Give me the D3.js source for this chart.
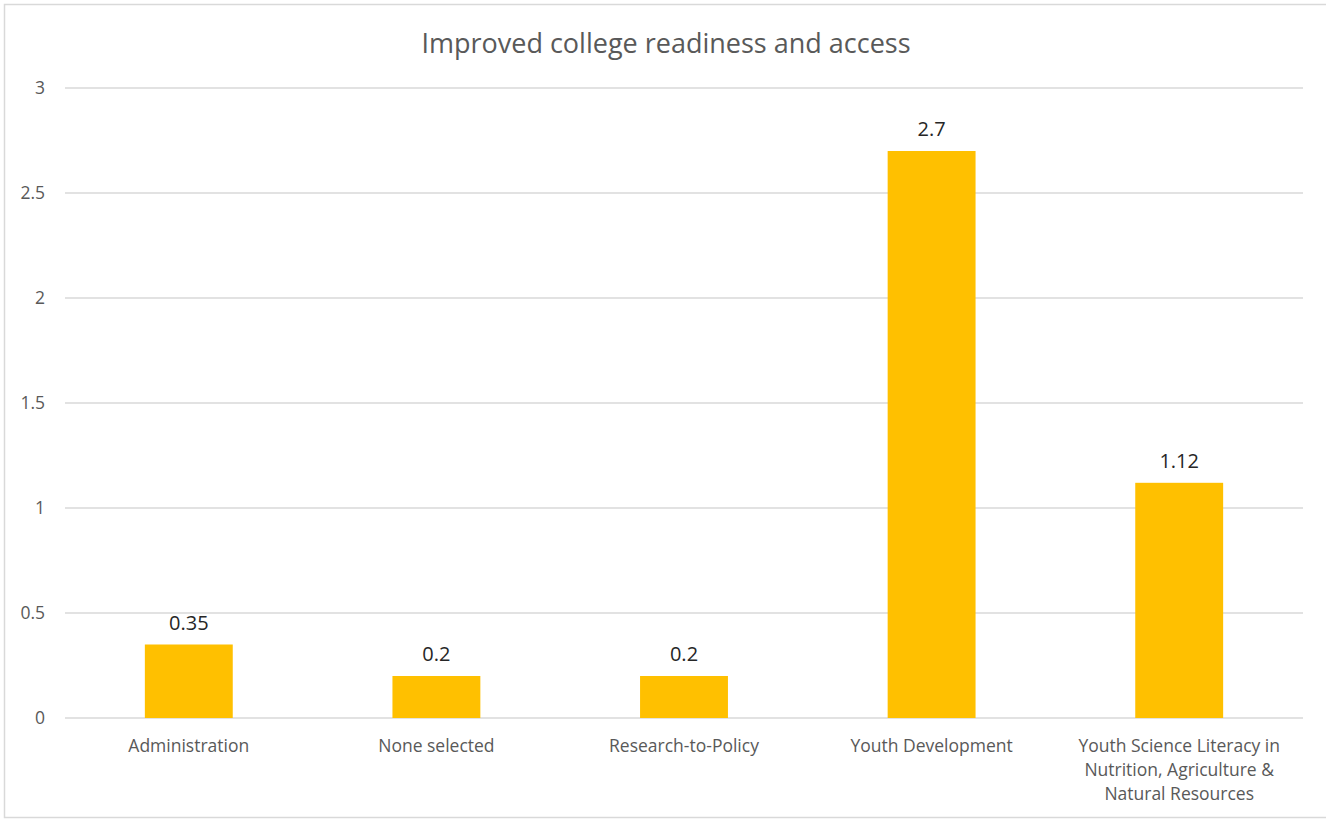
<!DOCTYPE html>
<html>
<head>
<meta charset="utf-8">
<script src="https://cdn.jsdelivr.net/npm/d3@7"></script>
<style>
  html, body { margin: 0; padding: 0; background: #fff; }
  svg { display: block; }
</style>
</head>
<body>
<svg id="chart" width="1326" height="820"></svg>
<script>
const title = "Improved college readiness and access";
const categories = [
  ["Administration"],
  ["None selected"],
  ["Research-to-Policy"],
  ["Youth Development"],
  ["Youth Science Literacy in", "Nutrition, Agriculture &", "Natural Resources"]
];
const values = [0.35, 0.2, 0.2, 2.7, 1.12];
const valueLabels = ["0.35", "0.2", "0.2", "2.7", "1.12"];
const yTicks = [0, 0.5, 1, 1.5, 2, 2.5, 3];
const yTickLabels = ["0", "0.5", "1", "1.5", "2", "2.5", "3"];

const font = "'Open Sans', 'Noto Sans', sans-serif";
const svg = d3.select("#chart");
const W = 1326, H = 820;
const plot = { left: 65, right: 1303, top: 88, bottom: 718 };

// outer border (chart area)
svg.append("rect")
  .attr("x", 4.5).attr("y", 4.5)
  .attr("width", W + 10).attr("height", 813)
  .attr("fill", "#fff").attr("stroke", "#d9d9d9").attr("stroke-width", 1.5);

const x = d3.scaleBand()
  .domain(d3.range(categories.length))
  .range([plot.left, plot.right])
  .paddingInner(0.645).paddingOuter(0.3225);

const y = d3.scaleLinear().domain([0, 3]).range([plot.bottom, plot.top]);

// gridlines
svg.append("g").selectAll("line").data(yTicks).join("line")
  .attr("x1", plot.left).attr("x2", plot.right)
  .attr("y1", d => y(d)).attr("y2", d => y(d))
  .attr("stroke", "#d9d9d9").attr("stroke-width", 1.3);

// y axis labels
const yAxis = d3.axisLeft(y).tickValues(yTicks)
  .tickFormat((d, i) => yTickLabels[i]).tickSize(0).tickPadding(20);
const gy = svg.append("g").attr("transform", `translate(${plot.left},0)`).call(yAxis);
gy.select(".domain").remove();
gy.selectAll("text").attr("font-family", font).attr("font-size", 17.5).attr("fill", "#595959");

// bars
svg.append("g").selectAll("rect").data(values).join("rect")
  .attr("x", (d, i) => x(i))
  .attr("width", x.bandwidth())
  .attr("y", d => y(d))
  .attr("height", d => y(0) - y(d))
  .attr("fill", "#ffc000");

// data labels
svg.append("g").selectAll("text").data(values).join("text")
  .attr("x", (d, i) => x(i) + x.bandwidth() / 2)
  .attr("y", d => y(d) - 15)
  .attr("text-anchor", "middle")
  .attr("font-family", font).attr("font-size", 20).attr("fill", "#262626")
  .text((d, i) => valueLabels[i]);

// category labels
const cat = svg.append("g").selectAll("text").data(categories).join("text")
  .attr("x", (d, i) => x(i) + x.bandwidth() / 2)
  .attr("y", plot.bottom + 34)
  .attr("text-anchor", "middle")
  .attr("font-family", font).attr("font-size", 17.5).attr("fill", "#595959");
cat.each(function(lines) {
  const t = d3.select(this);
  lines.forEach((l, k) => {
    t.append("tspan").attr("x", t.attr("x")).attr("dy", k === 0 ? 0 : 24).text(l);
  });
});

// title
svg.append("text")
  .attr("x", 666).attr("y", 53)
  .attr("text-anchor", "middle")
  .attr("font-family", font).attr("font-size", 27).attr("fill", "#595959")
  .text(title);
</script>
</body>
</html>
